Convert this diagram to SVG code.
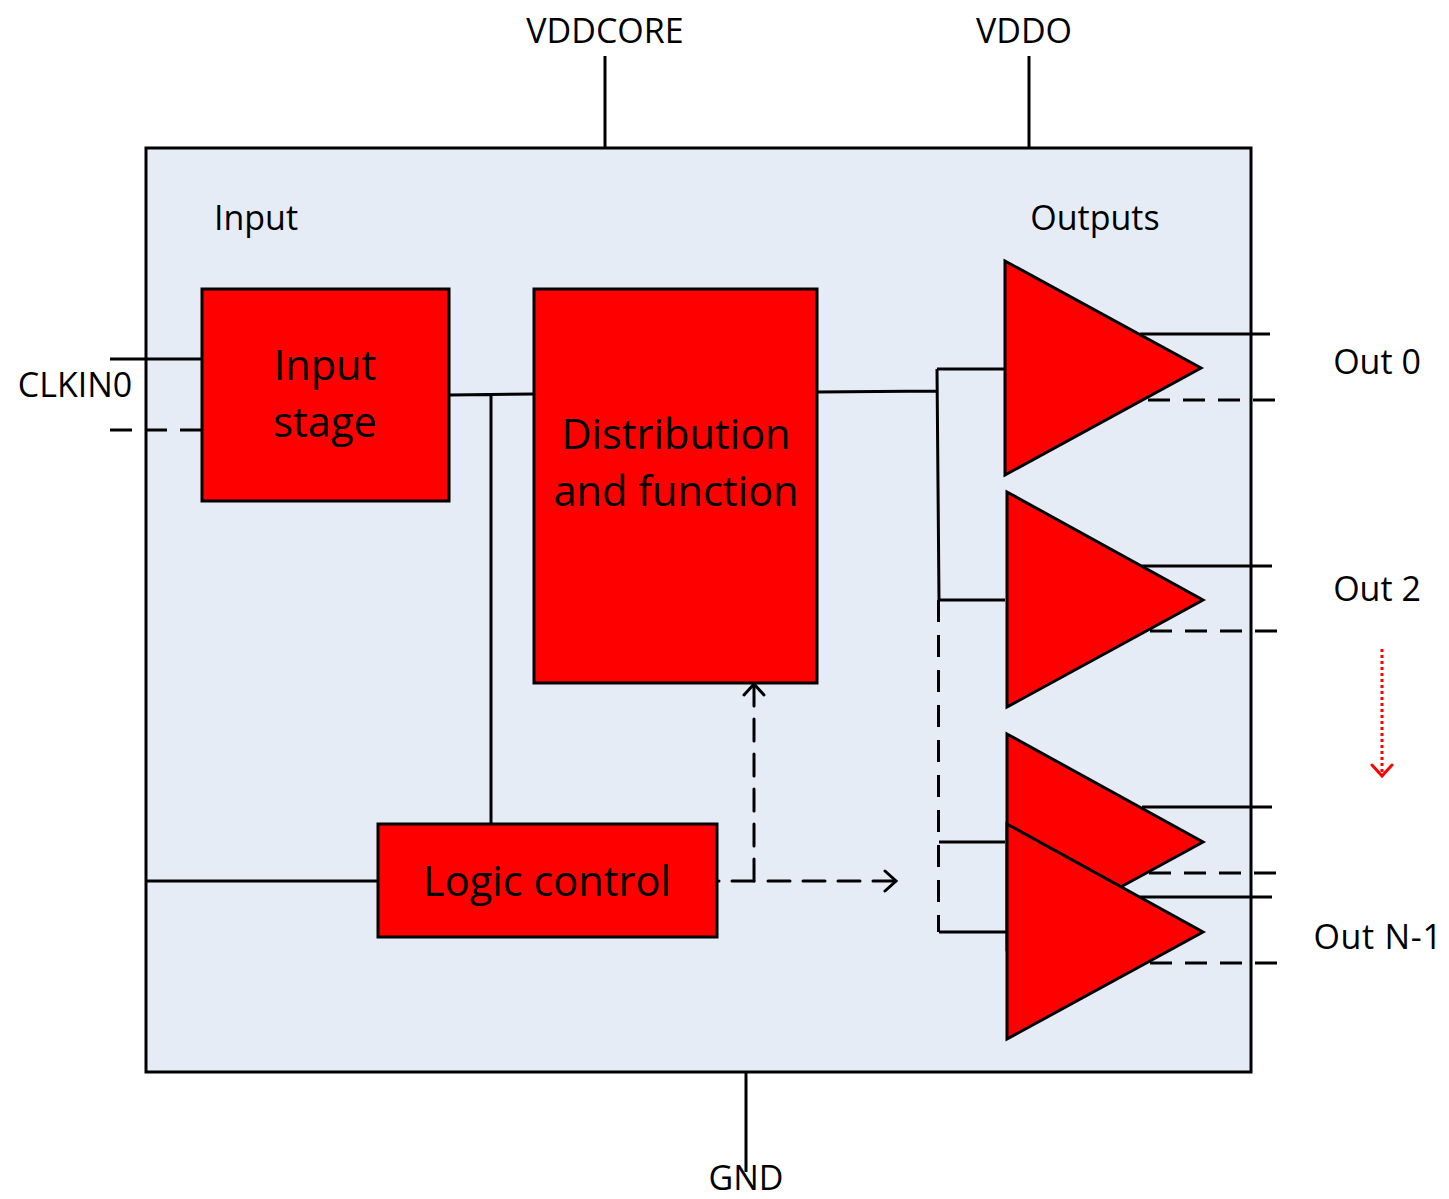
<svg xmlns="http://www.w3.org/2000/svg" width="1449" height="1199" viewBox="0 0 1449 1199">
<defs>
<style>
text{font-family:"Open Sans","Noto Sans","Liberation Sans",sans-serif;fill:#000}
.l{font-size:34px}.b{font-size:41.5px}
.box{fill:#ff0000;stroke:#000;stroke-width:3}
.w{fill:none;stroke:#000;stroke-width:3}
.d{stroke-dasharray:22 13}
.c{stroke-linecap:round}
</style>
<marker id="u" markerWidth="30" markerHeight="30" refX="14" refY="12" orient="auto" markerUnits="userSpaceOnUse"><path d="M3 2L14 12L3 22" fill="none" stroke="#000" stroke-width="3" stroke-linecap="round"/></marker>
<marker id="r" markerWidth="30" markerHeight="30" refX="14" refY="12" orient="auto" markerUnits="userSpaceOnUse"><path d="M3 2L14 12L3 22" fill="none" stroke="#f00" stroke-width="3" stroke-linecap="round"/></marker>
</defs>
<rect id="chip" x="146" y="148" width="1105" height="924" fill="#e6ecf6" stroke="#000" stroke-width="3"/>
<g id="connectors">
<path class="w" d="M605 56V148M1029 56V148M746 1072V1172M110 359H202M450 395L534 394M491 395V824M146 881H378M818 392L937 391M937 369H1005M937 369L939 600M939 600H1005M939 842H1005M939 932H1007M1140 334H1270M1142 566H1272M1142 807H1272M1140 897H1272"/>
<path class="w d" d="M110 430H202M1275 400H1146M1277 631H1146M1276 873H1146M1277 963H1146M938.500 600V932"/>
<path class="w d c" d="M754 881H718"/>
<path class="w d c" d="M754 881V684" marker-end="url(#u)"/>
<path class="w d c" d="M768 881H896" marker-end="url(#u)"/>
<path d="M1382 649V776" fill="none" stroke="#f00" stroke-width="3" stroke-dasharray="3 3" marker-end="url(#r)"/>
</g>
<g id="input-stage"><rect class="box" x="202" y="289" width="247" height="212"/><text class="b" x="325" y="380" text-anchor="middle">Input</text><text class="b" x="325" y="437" text-anchor="middle">stage</text></g>
<g id="distribution"><rect class="box" x="534" y="289" width="283" height="394"/><text class="b" x="676" y="449" text-anchor="middle">Distribution</text><text class="b" x="676" y="506" text-anchor="middle">and function</text></g>
<g id="logic-control"><rect class="box" x="378" y="824" width="339" height="113"/><text class="b" x="547" y="896" text-anchor="middle">Logic control</text></g>
<g id="out0"><path class="box" d="M1005 261L1201 368L1005 475Z"/></g>
<g id="out2"><path class="box" d="M1007 492L1203 600L1007 707Z"/></g>
<g id="out3"><path class="box" d="M1007 734L1203 842L1007 949Z"/></g>
<g id="outn"><path class="box" d="M1007 824L1203 932L1007 1039Z"/></g>
<g id="labels">
<text class="l" x="605" y="43" text-anchor="middle">VDDCORE</text>
<text class="l" x="1024" y="43" text-anchor="middle">VDDO</text>
<text class="l" x="256" y="230" text-anchor="middle">Input</text>
<text class="l" x="1095" y="230" text-anchor="middle">Outputs</text>
<text class="l" x="75" y="397" text-anchor="middle">CLKIN0</text>
<text class="l" x="1377" y="374" text-anchor="middle">Out 0</text>
<text class="l" x="1377" y="601" text-anchor="middle">Out 2</text>
<text class="l" x="1378" y="949" text-anchor="middle" letter-spacing="0.700">Out N-1</text>
<text class="l" x="746" y="1190" text-anchor="middle">GND</text>
</g>
</svg>
